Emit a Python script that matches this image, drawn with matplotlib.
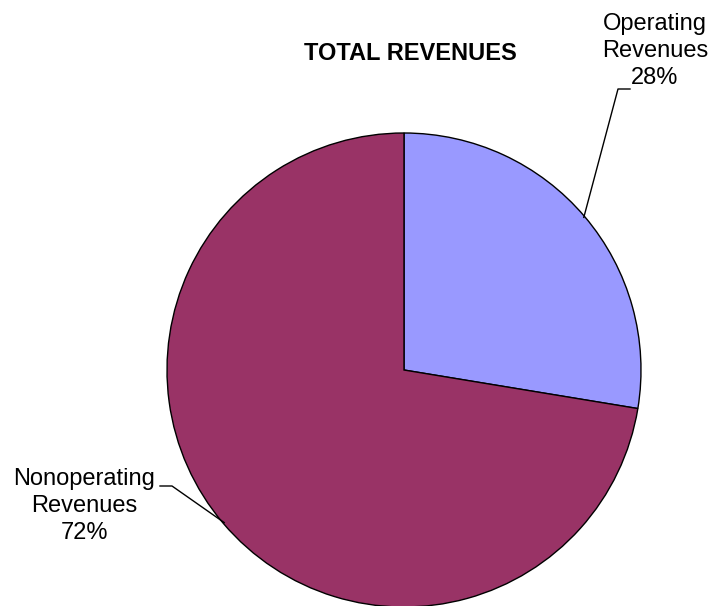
import numpy as np
import matplotlib
matplotlib.use("Agg")
import matplotlib.pyplot as plt

plt.rcParams['font.family'] = ['Liberation Sans', 'DejaVu Sans']

# data
labels = ['Operating\nRevenues', 'Nonoperating\nRevenues']
values = [27.6, 72.4]
pct_labels = ['28%', '72%']
colors = ['#9999FF', '#993366']

W, H = 712, 606
fig = plt.figure(figsize=(W / 100, H / 100), dpi=100)
ax = fig.add_axes([0, 0, 1, 1])

# pie laid out in pixel space (y up)
cx, cy, r = 404, H - 370, 237
wedges, _ = ax.pie(values, colors=colors, startangle=90, counterclock=False,
                   center=(cx, cy), radius=r, frame=True,
                   wedgeprops=dict(edgecolor='black', linewidth=1.0))
ax.set_xlim(0, W)
ax.set_ylim(0, H)
ax.set_aspect('equal')
ax.axis('off')

ax.text(410, H - 54, 'TOTAL REVENUES', ha='center', va='center',
        fontsize=17, fontweight='bold')

# label positions / leader elbows (pixel coords, y up)
text_pos = [(655, H - 51), (84, H - 506)]
elbows = [((618, H - 89), (630, H - 89)), ((172, H - 486), (160, H - 486))]

for w, lab, pct, tp, (el, end) in zip(wedges, labels, pct_labels, text_pos, elbows):
    ang = np.deg2rad((w.theta1 + w.theta2) / 2)
    px, py = cx + r * 0.995 * np.cos(ang), cy + r * 0.995 * np.sin(ang)
    ax.plot([px, el[0], end[0]], [py, el[1], end[1]], color='black', lw=1.0)
    ax.text(tp[0], tp[1], lab + '\n' + pct, ha='center', va='center',
            fontsize=17, linespacing=1.28)

fig.savefig('out.png', dpi=100)
